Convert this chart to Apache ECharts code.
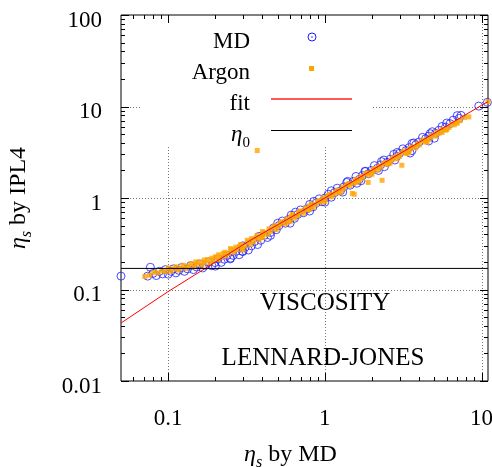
<!DOCTYPE html>
<html lang="en">
<head>
<meta charset="utf-8" />
<title>Viscosity IPL4 vs MD</title>
<script src="https://cdn.jsdelivr.net/npm/echarts@6/dist/echarts.min.js"></script>
</head>
<body style="margin:0">
<div id="main" style="width:492px;height:467px;"></div>
<script type="text/javascript">
// MD points (x = eta_s by MD, y = eta_s by IPL4)
var mdData = [
  [0.05,0.14],[0.074,0.14],[0.077,0.175],[0.08,0.15],[0.084,0.142],[0.088,0.158],[0.092,0.148],
  [0.096,0.165],[0.1,0.147],[0.104,0.158],[0.108,0.168],[0.112,0.152],[0.117,0.162],[0.122,0.174],
  [0.127,0.158],[0.133,0.168],[0.139,0.182],[0.145,0.165],[0.152,0.176],[0.159,0.19],[0.166,0.172],
  [0.174,0.184],[0.182,0.2],[0.19,0.182],[0.199,0.197],[0.208,0.216],[0.218,0.198],[0.228,0.214],
  [0.238,0.236],[0.249,0.216],[0.26,0.236],[0.272,0.262],[0.284,0.24],[0.297,0.262],[0.31,0.29],
  [0.325,0.27],[0.34,0.3],[0.356,0.335],[0.372,0.31],[0.39,0.345],[0.41,0.39],[0.43,0.37],
  [0.45,0.42],[0.47,0.47],[0.49,0.45],[0.51,0.5],[0.535,0.56],[0.56,0.53],[0.585,0.58],
  [0.61,0.65],[0.64,0.6],[0.67,0.66],[0.7,0.74],[0.73,0.69],[0.77,0.76],[0.8,0.85],[0.84,0.8],
  [0.88,0.88],[0.92,0.98],[0.96,0.91],[1.0,1.0],[1.05,1.1],[1.1,1.02],[1.15,1.14],[1.2,1.28],
  [1.26,1.2],[1.32,1.32],[1.38,1.48],[1.45,1.38],[1.52,1.52],[1.6,1.45],[1.58,1.72],[1.66,1.6],
  [1.74,1.76],[1.82,1.96],[1.9,1.84],[1.98,2.0],[2.07,2.26],[2.17,2.12],[2.27,2.3],[2.4,2.2],
  [2.38,2.6],[2.5,2.45],[2.62,2.66],[2.75,3.0],[2.88,2.86],[3.0,3.08],[3.15,3.45],[3.3,3.3],
  [3.5,3.1],[3.45,3.55],[3.6,3.95],[3.8,3.8],[4.0,4.1],[4.2,4.6],[4.4,4.45],[4.6,4.75],
  [5.0,4.5],[4.85,5.3],[5.1,5.1],[5.35,5.5],[5.6,6.05],[5.9,5.95],[6.3,6.5],[6.6,7.1],
  [7.0,7.95],[7.4,8.0],[7.2,7.4],[9.6,10.1],[10.9,11.1],
  [0.3,0.3],[0.38,0.38],[0.5,0.53],[0.65,0.7],[0.85,0.92],[1.1,1.2],[1.4,1.52],[1.8,1.95],
  [2.3,2.5],[2.9,3.15],[3.7,4.0],[4.7,5.05],[6.0,6.6],
  [0.2,0.18],[0.25,0.22],[0.3,0.26],[0.45,0.39],[0.6,0.53],[0.8,0.72],[1.0,0.9],[1.3,1.16],
  [1.7,1.54],[2.2,2.0],[2.8,2.6],[3.6,3.3],[4.6,4.2]
];
// Argon points
var argonData = [
  [0.071,0.139],[0.076,0.143],[0.081,0.154],[0.086,0.152],[0.091,0.16],[0.096,0.157],[0.1,0.172],
  [0.104,0.158],[0.108,0.168],[0.112,0.177],[0.116,0.163],[0.12,0.172],[0.125,0.184],[0.13,0.17],
  [0.135,0.18],[0.14,0.192],[0.146,0.176],[0.152,0.188],[0.158,0.2],[0.164,0.185],[0.171,0.197],
  [0.178,0.212],[0.185,0.196],[0.193,0.208],[0.2,0.228],[0.208,0.212],[0.216,0.226],[0.225,0.247],
  [0.234,0.232],[0.243,0.248],[0.253,0.272],[0.263,0.256],[0.274,0.272],[0.285,0.296],[0.297,0.28],
  [0.31,0.3],[0.323,0.33],[0.336,0.31],[0.35,0.335],[0.365,0.37],[0.38,0.35],[0.395,0.38],
  [0.41,0.42],[0.43,0.4],[0.45,0.43],[0.47,0.48],[0.49,0.45],[0.51,0.49],[0.535,0.55],[0.56,0.52],
  [0.585,0.56],[0.61,0.63],[0.64,0.6],[0.67,0.64],[0.7,0.72],[0.73,0.68],[0.77,0.74],[0.8,0.82],
  [0.84,0.79],[0.88,0.85],[0.92,0.94],[0.96,0.9],[1.0,0.96],[1.05,1.06],[1.1,1.03],[1.15,1.1],
  [1.2,1.22],[1.26,1.18],[1.32,1.26],[1.38,1.4],[1.45,1.36],[1.52,1.45],[1.5,1.12],[1.54,1.1],
  [1.58,1.6],[1.66,1.55],[1.74,1.66],[1.82,1.84],[1.9,1.78],[1.89,1.48],[1.98,1.88],[2.07,2.1],
  [2.17,2.02],[2.27,2.16],[2.32,1.56],[2.38,2.4],[2.5,2.33],[2.62,2.48],[2.75,2.78],[2.88,2.68],
  [3.0,2.86],[3.1,2.28],[3.15,3.18],[3.3,3.08],[3.45,3.28],[3.6,3.62],[3.8,3.55],[4.0,3.8],
  [4.2,4.22],[4.4,4.1],[4.6,4.38],[4.85,4.85],[5.1,4.75],[5.35,5.1],[5.6,5.6],[5.9,5.5],
  [6.2,5.9],[6.5,6.45],[6.9,6.6],[7.3,7.0],[7.8,7.6],[8.3,7.7],[11.0,11.3],[0.37,3.3],
  [0.15,0.2],[0.17,0.21],[0.19,0.22],[0.21,0.24],[0.23,0.255],[0.25,0.28],[0.27,0.29],[0.29,0.31],
  [0.32,0.345],[0.34,0.36],[0.37,0.39],[0.4,0.43],[0.44,0.46],[0.48,0.5],[0.52,0.53],[0.57,0.59],
  [0.62,0.66],[0.68,0.7],[0.75,0.78],[0.82,0.86],[0.9,0.92],[0.98,1.01],[1.07,1.1],[1.17,1.16],
  [1.3,1.32],[1.42,1.44],[1.56,1.52],[1.7,1.72],[1.86,1.88],[2.03,2.0],[2.22,2.24],[2.44,2.45],
  [2.68,2.65],[2.94,2.95],[3.22,3.25],[3.52,3.48],[3.9,3.92],[4.3,4.3],[4.75,4.65],[5.2,5.25],
  [0.3,0.27],[0.4,0.37],[0.6,0.55],[0.8,0.75],[1.0,0.92],[1.25,1.14],[1.6,1.48],[2.0,1.82],
  [2.6,2.4],[3.4,3.1],[4.5,4.1],[5.6,5.2],[6.0,5.6],[6.7,6.3],[7.0,6.6]
];
// fit line, read along its length
var fitData = [[0.05,0.043],[0.1,0.095],[0.33,0.34],[1,1.0],[10,10.3],[11,11.3]];
var eta0 = 0.17;

var xRange = [0.05, 11];
var yRange = [0.01, 100];
var xMajor = [0.1, 1, 10];
var xMinor = [0.06,0.07,0.08,0.09,0.2,0.3,0.4,0.5,0.6,0.7,0.8,0.9,2,3,4,5,6,7,8,9];
var yMajor = [0.01, 0.1, 1, 10, 100];
var yMinor = [0.02,0.03,0.04,0.05,0.06,0.07,0.08,0.09,0.2,0.3,0.4,0.5,0.6,0.7,0.8,0.9,
              2,3,4,5,6,7,8,9,20,30,40,50,60,70,80,90];

var FONT = 'Liberation Serif';
var FS = 23;

var myChart = echarts.init(document.getElementById('main'), null, {renderer: 'canvas'});

function decadeLabel(v) {
  var e = Math.log10(v);
  if (Math.abs(e - Math.round(e)) > 1e-6) return '';
  return String(Number(v.toPrecision(2)));
}

function seg(x1, y1, x2, y2, style) {
  return {type: 'line', shape: {x1: x1, y1: y1, x2: x2, y2: y2}, style: style};
}

var tickStyle = {stroke: '#000', lineWidth: 1};
var gridStyle = {stroke: '#777', lineWidth: 1, lineDash: [1, 2]};

// ticks (mirrored) or dotted grid lines, placed through the axis scales
function makeRender(isX, gridOnly) {
  return function (params, api) {
    var cs = params.coordSys;
    var major = api.value(2) === 1;
    var p = api.coord([api.value(0), api.value(1)]);
    var kids = [];
    var len = major ? 8 : 4;
    if (isX) {
      var x = Math.round(p[0]) + 0.5;
      if (gridOnly) {
        if (major && x > cs.x + 2 && x < cs.x + cs.width - 2)
          kids.push(seg(x, cs.y, x, cs.y + cs.height, gridStyle));
      } else {
        kids.push(seg(x, cs.y + cs.height, x, cs.y + cs.height - len, tickStyle));
        kids.push(seg(x, cs.y, x, cs.y + len, tickStyle));
      }
    } else {
      var y = Math.round(p[1]) + 0.5;
      if (gridOnly) {
        if (major && y > cs.y + 2 && y < cs.y + cs.height - 2)
          kids.push(seg(cs.x, y, cs.x + cs.width, y, gridStyle));
      } else {
        kids.push(seg(cs.x, y, cs.x + len, y, tickStyle));
        kids.push(seg(cs.x + cs.width, y, cs.x + cs.width - len, y, tickStyle));
      }
    }
    return {type: 'group', children: kids};
  };
}

var xTickData = xMajor.map(function (v) { return [v, 1, 1]; })
  .concat(xMinor.map(function (v) { return [v, 1, 0]; }));
var yTickData = yMajor.map(function (v) { return [1, v, 1]; })
  .concat(yMinor.map(function (v) { return [1, v, 0]; }));

var richName = {
  e: {fontFamily: FONT, fontSize: 24, fontStyle: 'italic', lineHeight: 32, verticalAlign: 'middle', color: '#000'},
  s: {fontFamily: FONT, fontSize: 16, fontStyle: 'italic', lineHeight: 14, verticalAlign: 'bottom', color: '#000'},
  t: {fontFamily: FONT, fontSize: 24, lineHeight: 32, verticalAlign: 'middle', color: '#000'}
};
var capFont = '25px "' + FONT + '"';
var keyFont = FS + 'px "' + FONT + '"';

var option = {
  animation: false,
  backgroundColor: '#fff',
  grid: {left: 121, top: 15, width: 367, height: 366, show: true, outerBoundsMode: 'none',
         containLabel: false, borderColor: '#000', borderWidth: 1, backgroundColor: 'transparent'},
  xAxis: {
    type: 'log', logBase: 10, min: xRange[0], max: xRange[1],
    axisLine: {show: false}, axisTick: {show: false}, splitLine: {show: false},
    axisLabel: {formatter: decadeLabel, fontFamily: FONT, fontSize: FS, color: '#000',
                margin: 26, showMinLabel: false, showMaxLabel: false},
    name: '{e|η}{s|s}{t| by MD}', nameLocation: 'middle', nameGap: 58,
    nameTextStyle: {rich: richName, padding: [0, 28, 0, 0]}
  },
  yAxis: {
    type: 'log', logBase: 10, min: yRange[0], max: yRange[1],
    axisLine: {show: false}, axisTick: {show: false}, splitLine: {show: false},
    axisLabel: {formatter: decadeLabel, fontFamily: FONT, fontSize: FS, color: '#000',
                margin: 19, verticalAlign: 'top', lineHeight: 11},
    name: '{e|η}{s|s}{t| by IPL4}', nameLocation: 'middle', nameGap: 86,
    nameTextStyle: {rich: richName}
  },
  graphic: {
    elements: [
      {type: 'rect', z: 1.5, shape: {x: 140, y: 16, width: 231, height: 131}, style: {fill: '#fff'}},
      {type: 'text', z: 5, x: 250, y: 42, style: {text: 'MD', font: keyFont, fill: '#000', align: 'right', verticalAlign: 'middle'}},
      {type: 'text', z: 5, x: 250, y: 73, style: {text: 'Argon', font: keyFont, fill: '#000', align: 'right', verticalAlign: 'middle'}},
      {type: 'text', z: 5, x: 250, y: 104, style: {text: 'fit', font: keyFont, fill: '#000', align: 'right', verticalAlign: 'middle'}},
      {type: 'text', z: 5, x: 250, y: 135, style: {
        text: '{e|η}{s|0}', align: 'right', verticalAlign: 'middle',
        rich: {
          e: {fontFamily: FONT, fontSize: FS, fontStyle: 'italic', lineHeight: 32, verticalAlign: 'middle', fill: '#000'},
          s: {fontFamily: FONT, fontSize: 15, lineHeight: 14, verticalAlign: 'bottom', fill: '#000'}
        }}},
      {type: 'circle', z: 5, shape: {cx: 312, cy: 37, r: 4}, style: {fill: 'none', stroke: '#1f1fff', lineWidth: 1}},
      {type: 'circle', z: 5, shape: {cx: 312, cy: 37, r: 0.8}, style: {fill: '#1f1fff'}},
      {type: 'rect', z: 5, shape: {x: 309, y: 66, width: 5, height: 5}, style: {fill: '#ffa500'}},
      {type: 'line', z: 5, shape: {x1: 271, y1: 99, x2: 352, y2: 99}, style: {stroke: '#ff2020', lineWidth: 1.6, fill: null}},
      {type: 'line', z: 5, shape: {x1: 271, y1: 130.5, x2: 352, y2: 130.5}, style: {stroke: '#000000', lineWidth: 1, fill: null}},
      {type: 'text', z: 5, x: 325, y: 303, style: {text: 'VISCOSITY', font: capFont, fill: '#000', align: 'center', verticalAlign: 'middle'}},
      {type: 'text', z: 5, x: 323, y: 358, style: {text: 'LENNARD-JONES', font: capFont, fill: '#000', align: 'center', verticalAlign: 'middle'}}
    ]
  },
  series: [
    {type: 'custom', z: 1, silent: true, renderItem: makeRender(true, true), data: xTickData},
    {type: 'custom', z: 1, silent: true, renderItem: makeRender(false, true), data: yTickData},
    {
      name: 'MD', type: 'scatter', z: 2, clip: false, symbol: 'circle', symbolSize: 8,
      itemStyle: {color: 'rgba(0,0,0,0)', borderColor: '#1f1fff', borderWidth: 1},
      data: mdData
    },
    {
      name: 'Argon', type: 'scatter', z: 2, clip: false, symbol: 'rect', symbolSize: 5,
      itemStyle: {color: '#ffa500'},
      data: argonData
    },
    {
      name: 'fit', type: 'line', z: 3, showSymbol: false,
      lineStyle: {color: '#ff0000', width: 1},
      data: fitData
    },
    {
      name: 'eta0', type: 'line', z: 3, showSymbol: false,
      lineStyle: {color: '#000', width: 1},
      data: [[xRange[0], eta0], [xRange[1], eta0]]
    },
    {type: 'custom', z: 4, silent: true, renderItem: makeRender(true, false), data: xTickData},
    {type: 'custom', z: 4, silent: true, renderItem: makeRender(false, false), data: yTickData}
  ]
};
myChart.setOption(option);
</script>
</body>
</html>
